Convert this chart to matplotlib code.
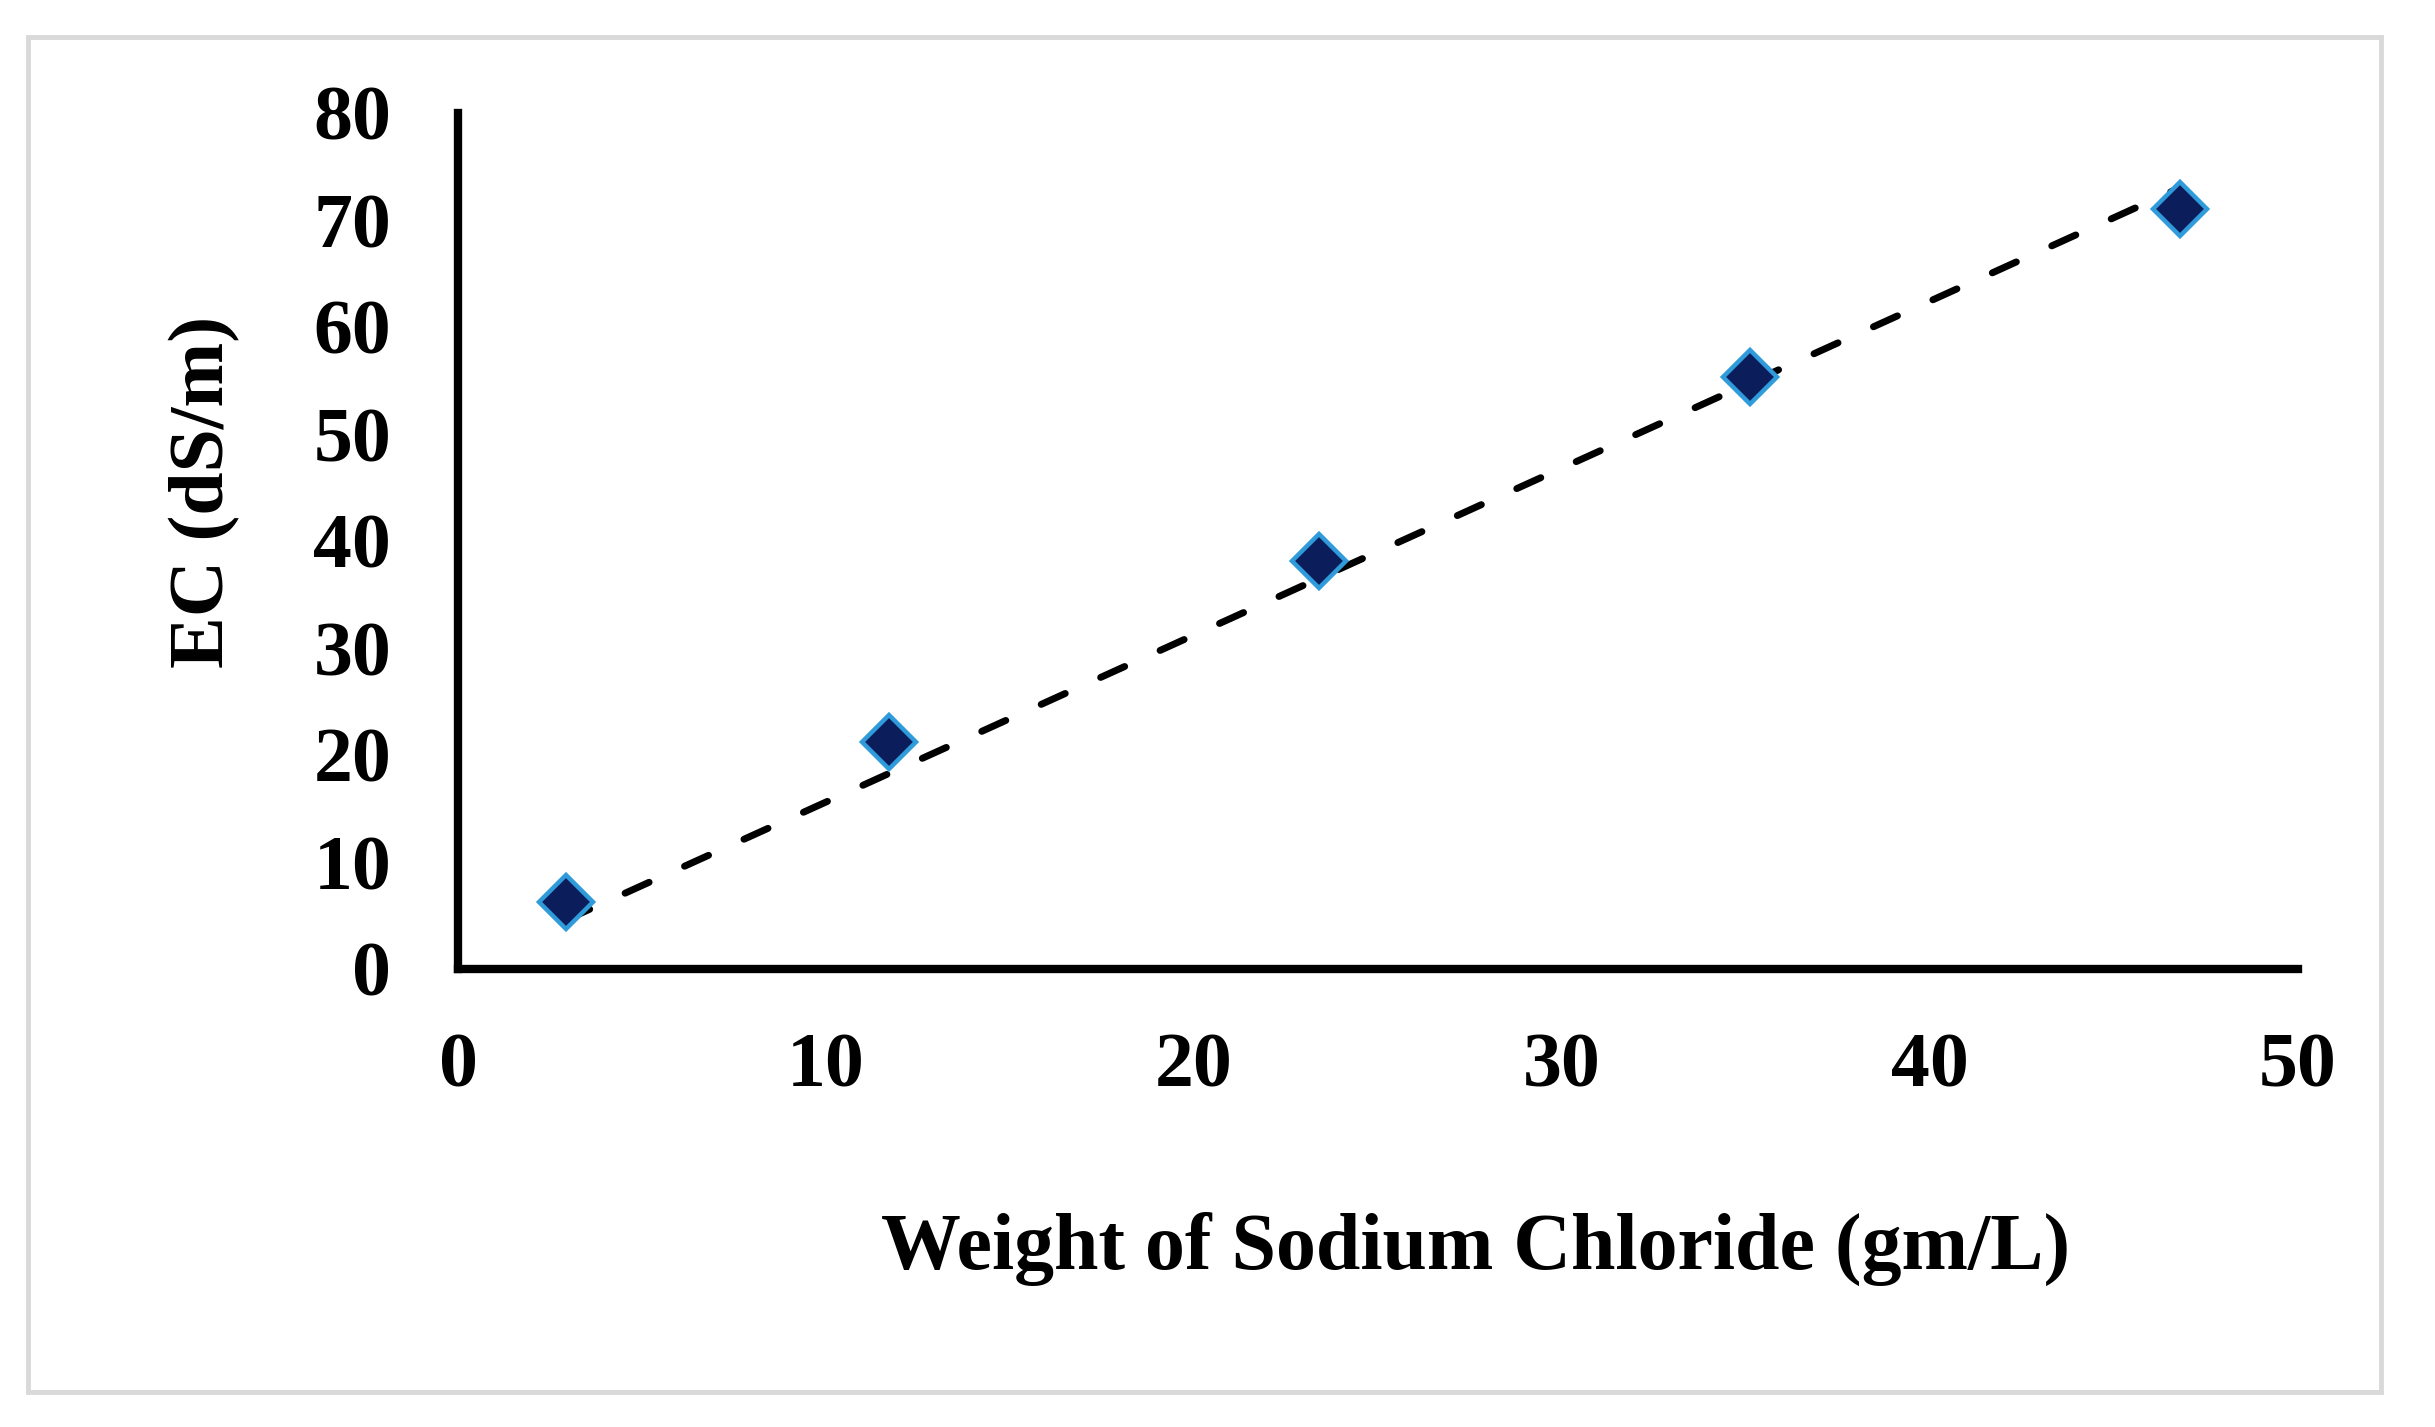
import numpy as np
import matplotlib
matplotlib.use("Agg")
import matplotlib.pyplot as plt
from matplotlib.patches import Rectangle

# Data
nacl_weight = [2.925, 11.7, 23.4, 35.1, 46.8]   # gm/L
ec_values = [6.3, 21.2, 38.1, 55.3, 71.0]       # dS/m
x_ticks = [0, 10, 20, 30, 40, 50]
y_ticks = [0, 10, 20, 30, 40, 50, 60, 70, 80]
x_label = "Weight of Sodium Chloride (gm/L)"
y_label = "EC (dS/m)"

plt.rcParams['font.family'] = ['Liberation Serif', 'DejaVu Serif']

W, H = 2435, 1427
fig = plt.figure(figsize=(W / 100, H / 100), dpi=100)
left, right, top, bottom = 458 / W, 2298 / W, 1 - 113 / H, 1 - 969 / H
ax = fig.add_axes([left, bottom, right - left, top - bottom])

# Linear trendline through the origin (least squares)
xa = np.array(nacl_weight)
ya = np.array(ec_values)
slope = np.sum(xa * ya) / np.sum(xa * xa)
xs = np.array([xa.min(), xa.max()])
ax.plot(xs, slope * xs, color='black', lw=5, linestyle=(0, (3.8, 5.6)),
        dash_capstyle='round', solid_capstyle='round', zorder=3)

ax.plot(nacl_weight, ec_values, linestyle='none', marker='D', markersize=28,
        markerfacecolor='#0B1E5B', markeredgecolor='#2F9BDB', markeredgewidth=3.2,
        zorder=4)

ax.set_xlim(0, 50)
ax.set_ylim(0, 80)
ax.set_xticks(x_ticks)
ax.set_yticks(y_ticks)
ax.tick_params(axis='both', length=0, labelsize=56)
ax.tick_params(axis='x', pad=46)
ax.tick_params(axis='y', pad=48)
for lab in ax.get_xticklabels() + ax.get_yticklabels():
    lab.set_fontweight('bold')

for s in ['top', 'right']:
    ax.spines[s].set_visible(False)
for s in ['left', 'bottom']:
    ax.spines[s].set_linewidth(6)
    ax.spines[s].set_color('black')
    ax.spines[s].set_capstyle('projecting')

fig.text(0.606, 1 - 1249 / H, x_label, ha='center', va='center',
         fontsize=57.5, fontweight='bold')
fig.text(205 / W, 1 - 492 / H, y_label, ha='center', va='center',
         rotation=90, fontsize=56, fontweight='bold')

# Outer light-gray frame
fig.patches.append(Rectangle((28 / W, 1 - 1392 / H), (2381 - 28) / W,
                             (1392 - 37) / H, transform=fig.transFigure,
                             fill=False, edgecolor='#D9D9D9', linewidth=3.5))

fig.savefig("out.png", dpi=100, facecolor='white')
